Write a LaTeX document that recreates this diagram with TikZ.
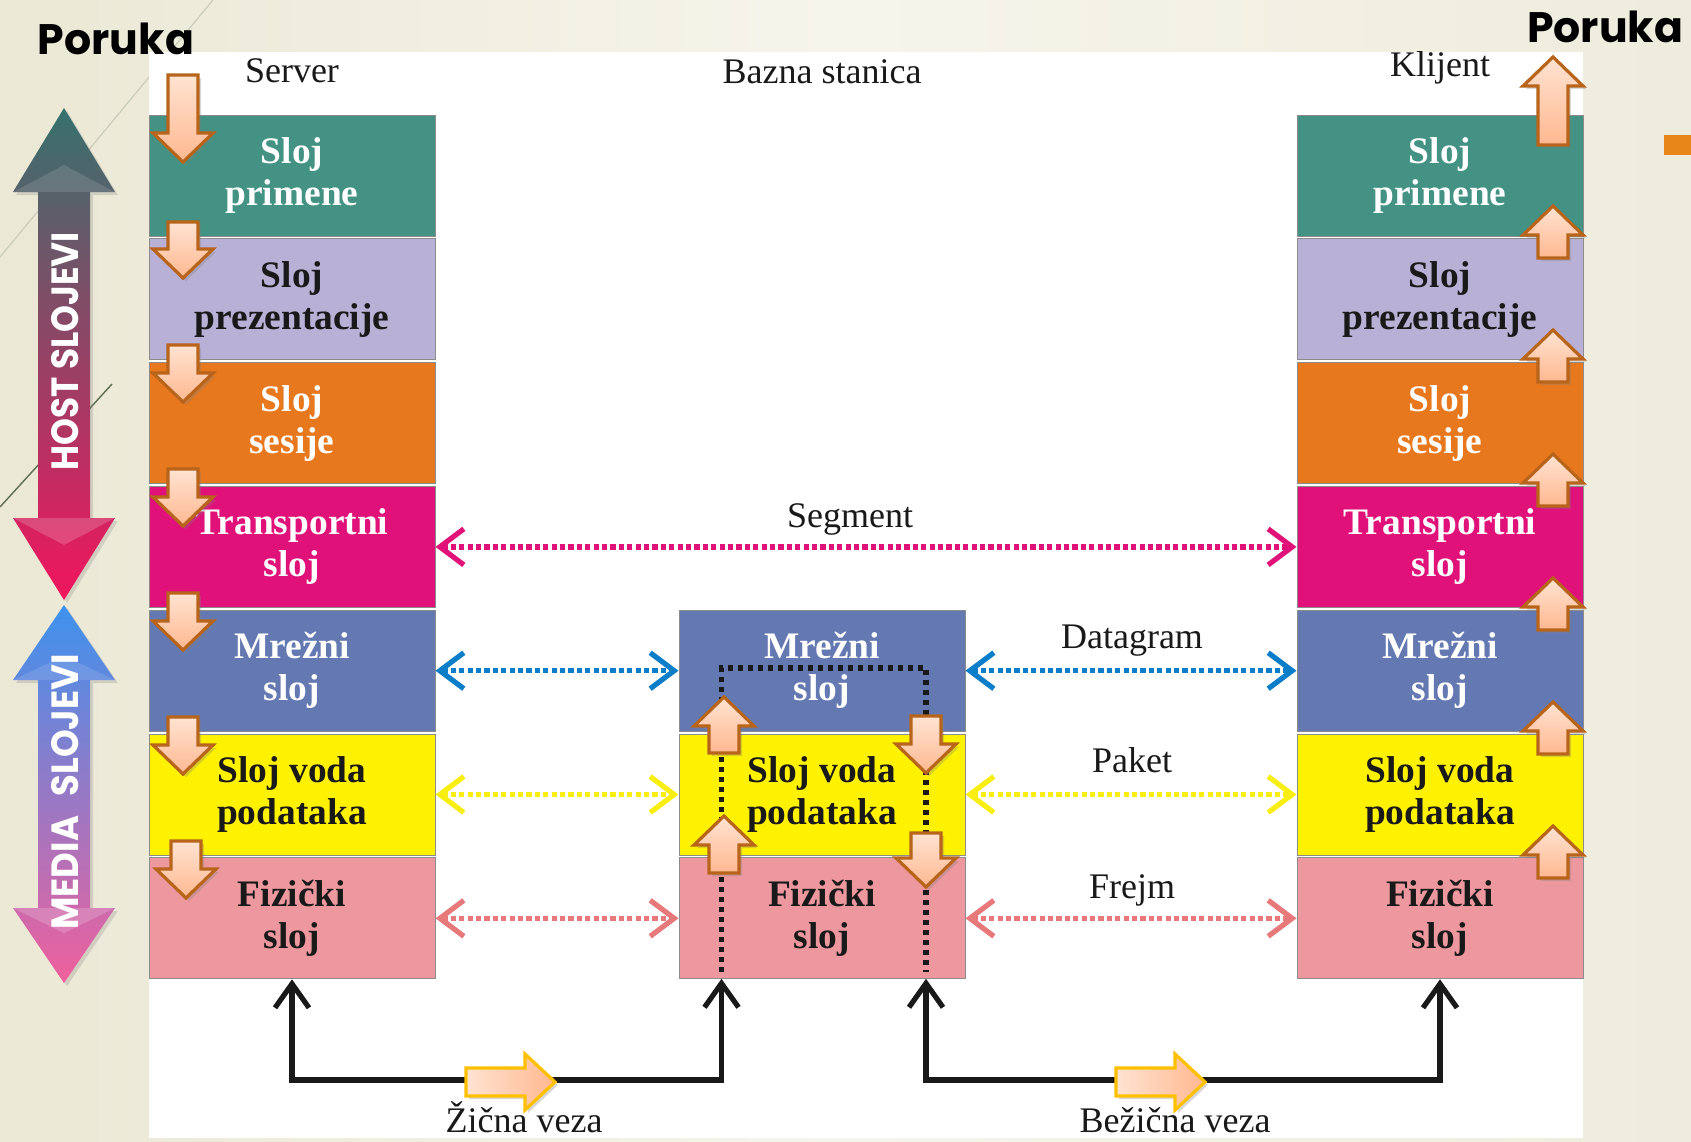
\documentclass[tikz,border=0pt]{standalone}
\usepackage{fontspec}
\usepackage{graphicx}
\setmainfont{Liberation Serif}
\newfontfamily\gothic{Poppins}
\usetikzlibrary{arrows.meta,shadows}

\definecolor{bgA}{HTML}{EBE8D5}
\definecolor{bgB}{HTML}{F6F5EC}
\definecolor{bgC}{HTML}{EEECDC}
\definecolor{wispL}{HTML}{C9CDB9}
\definecolor{wispD}{HTML}{5E6E52}
\definecolor{bulletc}{HTML}{E8861A}
\definecolor{cTeal}{HTML}{439283}
\definecolor{cLav}{HTML}{B8B0D5}
\definecolor{cOrange}{HTML}{E8781E}
\definecolor{cMagenta}{HTML}{E01279}
\definecolor{cSlate}{HTML}{6479B2}
\definecolor{cYellow}{HTML}{FFF200}
\definecolor{cPink}{HTML}{EC989E}
\definecolor{aBlue}{HTML}{0A7EC8}
\definecolor{aYellow}{HTML}{F9EE12}
\definecolor{aPink}{HTML}{E8797A}
\definecolor{pkLight}{HTML}{FFE3D2}
\definecolor{pkDeep}{HTML}{FFB890}
\definecolor{pkEdge}{HTML}{B8641A}
\definecolor{goldEdge}{HTML}{FFC000}
\definecolor{hostTop}{HTML}{36716D}
\definecolor{hostMid}{HTML}{A8385C}
\definecolor{hostBot}{HTML}{F2155E}
\definecolor{medTop}{HTML}{3D92EE}
\definecolor{medMid}{HTML}{B77AD6}
\definecolor{medBot}{HTML}{F0609C}

% peach block arrows (x, y-top, y-tip) and (x, y-tip, y-bottom)
\newcommand\pkdown[3]{%
  \draw[blk] (#1-15,#2) -- (#1+15,#2) -- (#1+15,#3-29) -- (#1+30,#3-29)
    -- (#1,#3) -- (#1-30,#3-29) -- (#1-15,#3-29) -- cycle;}
\newcommand\pkup[3]{%
  \draw[blk] (#1-15,#3) -- (#1+15,#3) -- (#1+15,#2+29) -- (#1+30,#2+29)
    -- (#1,#2) -- (#1-30,#2+29) -- (#1-15,#2+29) -- cycle;}
% right-pointing arrow on a link (x-tail, x-tip, y)
\newcommand\pkright[3]{%
  \draw[blkw] (#1,#3-14) -- (#2-30,#3-14) -- (#2-30,#3-28) -- (#2,#3)
    -- (#2-30,#3+28) -- (#2-30,#3+14) -- (#1,#3+14) -- cycle;}

\begin{document}
\begin{tikzpicture}[x=0.5pt,y=-0.5pt,
  chev/.tip={Straight Barb[length=12pt,width=18pt,line width=2.6pt]},
  wchev/.tip={Straight Barb[length=12pt,width=17pt,line width=2.6pt]},
  layer/.style={draw=black!45, line width=0.5pt, minimum width=143pt,
    minimum height=60.5pt, inner sep=0pt, align=center,
    font=\fontsize{18.7}{21}\selectfont\bfseries},
  r1/.style={fill=cTeal, text=white},
  r2/.style={fill=cLav, text=black!90},
  r3/.style={fill=cOrange, text=white},
  r4/.style={fill=cMagenta, text=white},
  r5/.style={fill=cSlate, text=white},
  r6/.style={fill=cYellow, text=black!90},
  r7/.style={fill=cPink, text=black!90},
  lbl/.style={font=\fontsize{18}{21}\selectfont, text=black!90, inner sep=0pt, anchor=base},
  msg/.style={font=\gothic\bfseries, inner sep=0pt, anchor=base},
  dotc/.style={draw=#1, line width=2.6pt, dash pattern=on 2.6pt off 1.6pt, chev-chev},
  bdots/.style={draw=black!90, line width=2.6pt, dash pattern=on 2.6pt off 2.4pt},
  wire/.style={draw=black!90, line width=2.6pt, line join=miter, wchev-wchev},
  blk/.style={top color=pkLight, bottom color=pkDeep, draw=pkEdge, line width=1.6pt,
    line join=miter, drop shadow={shadow xshift=1.5pt, shadow yshift=-1.5pt, opacity=0.3}},
  blkw/.style={left color=pkLight, right color=pkDeep, draw=goldEdge, line width=1.6pt,
    line join=miter, drop shadow={shadow xshift=1.5pt, shadow yshift=-1.5pt, opacity=0.3}},
  bigarrow/.style={drop shadow={shadow xshift=1.5pt, shadow yshift=-1.5pt, opacity=0.25}}
]
\useasboundingbox (0,0) rectangle (1691,1141);

% slide background
\shade[left color=bgA, right color=bgC, middle color=bgB] (0,0) rectangle (1691,1141);
\draw[wispL, line width=0.6pt] (0,257) -- (213,0);
\draw[wispD, line width=0.7pt] (0,507) -- (112,384);
\fill[bulletc] (1664,135) rectangle (1691,155);

% white panel
\fill[white] (149,52) rectangle (1583,1138);

% HOST SLOJEVI double arrow
\shade[bigarrow, top color=hostTop, middle color=hostMid, bottom color=hostBot]
  (64,108) -- (115,192) -- (90,192) -- (90,518) -- (115,518) -- (64,600)
  -- (13,518) -- (38,518) -- (38,192) -- (13,192) -- cycle;
\fill[white, opacity=0.12] (13,192) -- (64,165) -- (115,192) -- cycle;
\fill[white, opacity=0.18] (13,518) -- (115,518) -- (64,545) -- cycle;
\node[rotate=90, text=white, inner sep=0pt] (host) at (65,351)
  {\resizebox{119pt}{13.5pt}{\gothic\bfseries HOST SLOJEVI}};

% MEDIA SLOJEVI double arrow
\shade[bigarrow, top color=medTop, middle color=medMid, bottom color=medBot]
  (64,605) -- (115,680) -- (90,680) -- (90,908) -- (115,908) -- (64,983)
  -- (13,908) -- (38,908) -- (38,680) -- (13,680) -- cycle;
\fill[white, opacity=0.12] (13,680) -- (64,656) -- (115,680) -- cycle;
\fill[white, opacity=0.18] (13,908) -- (115,908) -- (64,933) -- cycle;
\node[rotate=90, text=white, inner sep=0pt] (media) at (65,792)
  {\resizebox{137.5pt}{13.5pt}{\gothic\bfseries MEDIA\hspace{0.55em}SLOJEVI}};

% messages
\node[msg] (msgL) at (116,54) {\resizebox{78pt}{!}{Poruka}};
\node[msg] (msgR) at (1605,42) {\resizebox{78pt}{!}{Poruka}};

% column titles
\node[lbl] (tS) at (292,82) {Server};
\node[lbl] (tB) at (822,83) {Bazna stanica};
\node[lbl] (tK) at (1440,76) {Klijent};

% server stack
\node[layer,r1] (s1) at (292,175.5) {Sloj\\primene};
\node[layer,r2] (s2) at (292,299.3) {Sloj\\prezentacije};
\node[layer,r3] (s3) at (292,423.1) {Sloj\\sesije};
\node[layer,r4] (s4) at (292,546.9) {Transportni\\sloj};
\node[layer,r5] (s5) at (292,670.7) {Mrežni\\sloj};
\node[layer,r6] (s6) at (292,794.5) {Sloj voda\\podataka};
\node[layer,r7] (s7) at (292,918.3) {Fizički\\sloj};

% base station stack
\node[layer,r5] (m5) at (822,670.7) {Mrežni\\sloj};
\node[layer,r6] (m6) at (822,794.5) {Sloj voda\\podataka};
\node[layer,r7] (m7) at (822,918.3) {Fizički\\sloj};

% client stack
\node[layer,r1] (c1) at (1440,175.5) {Sloj\\primene};
\node[layer,r2] (c2) at (1440,299.3) {Sloj\\prezentacije};
\node[layer,r3] (c3) at (1440,423.1) {Sloj\\sesije};
\node[layer,r4] (c4) at (1440,546.9) {Transportni\\sloj};
\node[layer,r5] (c5) at (1440,670.7) {Mrežni\\sloj};
\node[layer,r6] (c6) at (1440,794.5) {Sloj voda\\podataka};
\node[layer,r7] (c7) at (1440,918.3) {Fizički\\sloj};

% peer-to-peer units
\draw[dotc=cMagenta] (s4.east) -- (c4.west);
\draw[dotc=aBlue] (s5.east) -- (m5.west);
\draw[dotc=aBlue] (m5.east) -- (c5.west);
\draw[dotc=aYellow] (s6.east) -- (m6.west);
\draw[dotc=aYellow] (m6.east) -- (c6.west);
\draw[dotc=aPink] (s7.east) -- (m7.west);
\draw[dotc=aPink] (m7.east) -- (c7.west);
\node[lbl] (lSeg) at (850,527) {Segment};
\node[lbl] (lDat) at (1132,648) {Datagram};
\node[lbl] (lPak) at (1132,772) {Paket};
\node[lbl] (lFrm) at (1132,898) {Frejm};

% path through the base station
\coordinate (dBL) at (721.5,972);
\coordinate (dTL) at (721.5,668);
\coordinate (dTR) at (926,668);
\coordinate (dBR) at (926,972);
\draw[bdots] (dBL) -- (dTL) -- (dTR) -- (dBR);

% links
\coordinate (bus) at (0,1080);
\coordinate (mL) at (721.5,978.8);
\coordinate (mR) at (926,978.8);
\draw[wire] (s7.south) |- (mL |- bus) -- (mL);
\draw[wire] (mR) |- (c7.south |- bus) -- (c7.south);
\pkright{466}{555}{1082}
\pkright{1116}{1205}{1082}
\node[lbl] (lWire) at (524,1132) {Žična veza};
\node[lbl] (lAir) at (1175,1132) {Bežična veza};

% data flow down the server stack
\pkdown{183}{75}{162}
\pkdown{183}{222}{278}
\pkdown{183}{345}{402}
\pkdown{183}{469}{526}
\pkdown{183}{593}{650}
\pkdown{183}{717}{774}
\pkdown{186}{841}{898}

% data flow through the base station
\pkup{724}{697}{753}
\pkup{724}{816}{873}
\pkdown{926}{716}{773}
\pkdown{926}{833}{887}

% data flow up the client stack
\pkup{1553}{57}{145}
\pkup{1553}{206}{258}
\pkup{1553}{330}{382}
\pkup{1553}{454}{506}
\pkup{1553}{578}{630}
\pkup{1553}{702}{754}
\pkup{1553}{826}{878}
\end{tikzpicture}
\end{document}
